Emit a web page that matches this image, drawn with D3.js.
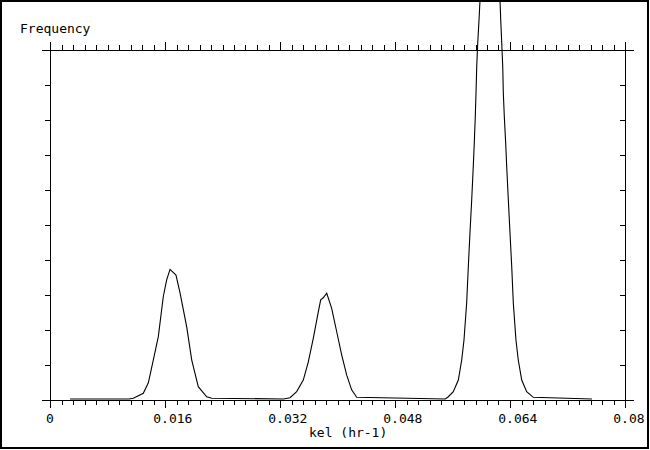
<!DOCTYPE html>
<html>
<head>
<meta charset="utf-8">
<script src="https://cdn.jsdelivr.net/npm/d3@7"></script>
<style>
  body { margin: 0; background: #fff; }
  text { font-family: "DejaVu Sans Mono", monospace; font-size: 13px; fill: #000; }
</style>
</head>
<body>
<div id="chart"></div>
<script>
// kel values (hr-1) and frequency
const kel = [
  0.0028, 0.0110, 0.01159, 0.01298, 0.01368, 0.01437, 0.01507, 0.01576, 0.01623,
  0.01670, 0.01753, 0.01809, 0.01902, 0.01972, 0.02063, 0.02180, 0.02250,
  0.0325, 0.03339, 0.03432, 0.03524, 0.03594, 0.03663, 0.03733, 0.03766, 0.03802,
  0.03850, 0.03919, 0.03989, 0.04058, 0.04128, 0.04197, 0.04267,
  0.0550, 0.05542, 0.05611, 0.05681, 0.05728, 0.05760, 0.05797, 0.05820, 0.05843,
  0.05867, 0.05889, 0.05903, 0.05917, 0.05927, 0.05937, 0.05951, 0.05969, 0.05983,
  0.06122,
  0.06261, 0.06271, 0.06285, 0.06299, 0.06307, 0.06321, 0.06340, 0.06354, 0.06377,
  0.06400, 0.06424, 0.06446, 0.06483, 0.06515, 0.06563, 0.06632, 0.06724, 0.0754
];
const freq = [
  0.03, 0.03, 0.05, 0.19, 0.49, 1.14, 1.81, 2.95, 3.43,
  3.73, 3.57, 3.06, 2.09, 1.14, 0.38, 0.09, 0.05,
  0.03, 0.066, 0.24, 0.57, 1.09, 1.76, 2.52, 2.86, 2.92,
  3.05, 2.62, 1.95, 1.29, 0.71, 0.29, 0.08,
  0.03, 0.094, 0.237, 0.571, 1.143, 1.714, 2.771, 3.81, 4.77,
  5.71, 6.67, 7.34, 8.09, 8.77, 9.52, 10.2, 10.86, 11.43,
  16.6,
  11.43, 10.86, 10.2, 9.52, 8.77, 8.09, 7.34, 6.67, 5.71,
  4.77, 3.81, 2.771, 1.714, 1.143, 0.571, 0.237, 0.077, 0.03
];
const majorTicks = [0, 0.016, 0.032, 0.048, 0.064, 0.08];
const majorLabels = ["0", "0.016", "0.032", "0.048", "0.064", "0.08"];
const minorTicks = [];
for (let i = 0; i <= 50; i++) minorTicks.push(+(i * 0.0016).toFixed(4));
const yTicks = [0, 1, 2, 3, 4, 5, 6, 7, 8, 9, 10];

const width = 650, height = 450;
const x = d3.scaleLinear().domain([0, 0.08]).range([50, 625]);
const y = d3.scaleLinear().domain([0, 10]).range([400, 50]);

const svg = d3.select("#chart").append("svg")
  .attr("width", width).attr("height", height);

svg.append("rect")
  .attr("x", 1).attr("y", 1).attr("width", 647).attr("height", 447)
  .attr("fill", "none").attr("stroke", "#000").attr("stroke-width", 2);

const axes = svg.append("g")
  .attr("stroke", "#000").attr("stroke-width", 1)
  .attr("shape-rendering", "crispEdges");

const [x0, x1] = x.range();
const [yb, yt] = y.range();

// axis lines
axes.append("line").attr("x1", x0 - 8).attr("x2", x1 + 9).attr("y1", yb + 0.5).attr("y2", yb + 0.5);
axes.append("line").attr("x1", x0 - 8).attr("x2", x1 + 9).attr("y1", yt + 0.5).attr("y2", yt + 0.5);
axes.append("line").attr("x1", x0 + 0.5).attr("x2", x0 + 0.5).attr("y1", yt - 8).attr("y2", yb + 7);
axes.append("line").attr("x1", x1 + 0.5).attr("x2", x1 + 0.5).attr("y1", yt - 8).attr("y2", yb);

// bottom & top ticks
const isMajor = (d) => majorTicks.some((m) => Math.abs(m - d) < 1e-6);
axes.selectAll(".tb").data(minorTicks).enter().append("line")
  .attr("x1", (d) => Math.round(x(d)) + 0.5).attr("x2", (d) => Math.round(x(d)) + 0.5)
  .attr("y1", yb).attr("y2", (d) => yb + (isMajor(d) ? 8 : 5));
axes.selectAll(".tt").data(minorTicks).enter().append("line")
  .attr("x1", (d) => Math.round(x(d)) + 0.5).attr("x2", (d) => Math.round(x(d)) + 0.5)
  .attr("y1", yt).attr("y2", (d) => yt - (isMajor(d) ? 8 : 5));

// left & right ticks
axes.selectAll(".tl").data(yTicks).enter().append("line")
  .attr("x1", x0 - 5).attr("x2", x0)
  .attr("y1", (d) => Math.round(y(d)) + 0.5).attr("y2", (d) => Math.round(y(d)) + 0.5);
axes.selectAll(".tr").data(yTicks.slice(1, -1)).enter().append("line")
  .attr("x1", x1 - 5).attr("x2", x1)
  .attr("y1", (d) => Math.round(y(d)) + 0.5).attr("y2", (d) => Math.round(y(d)) + 0.5);

// tick labels, aligned on the decimal point
majorTicks.forEach((t, i) => {
  const lab = majorLabels[i];
  const txt = svg.append("text").attr("y", 423).text(lab);
  const dot = lab.indexOf(".");
  if (dot < 0) {
    txt.attr("x", x(t)).attr("text-anchor", "middle");
  } else {
    const cw = txt.node().getComputedTextLength() / lab.length;
    txt.attr("x", x(t) - cw * (dot + 0.5));
  }
});

svg.append("text").attr("x", 309).attr("y", 437).text("kel (hr-1)");
svg.append("text").attr("x", 20).attr("y", 33).text("Frequency");

// curve
const line = d3.line()
  .x((d, i) => x(kel[i]))
  .y((d) => y(d));
svg.append("path")
  .datum(freq)
  .attr("d", line)
  .attr("fill", "none")
  .attr("stroke", "#000")
  .attr("stroke-width", 1.1);
</script>
</body>
</html>
